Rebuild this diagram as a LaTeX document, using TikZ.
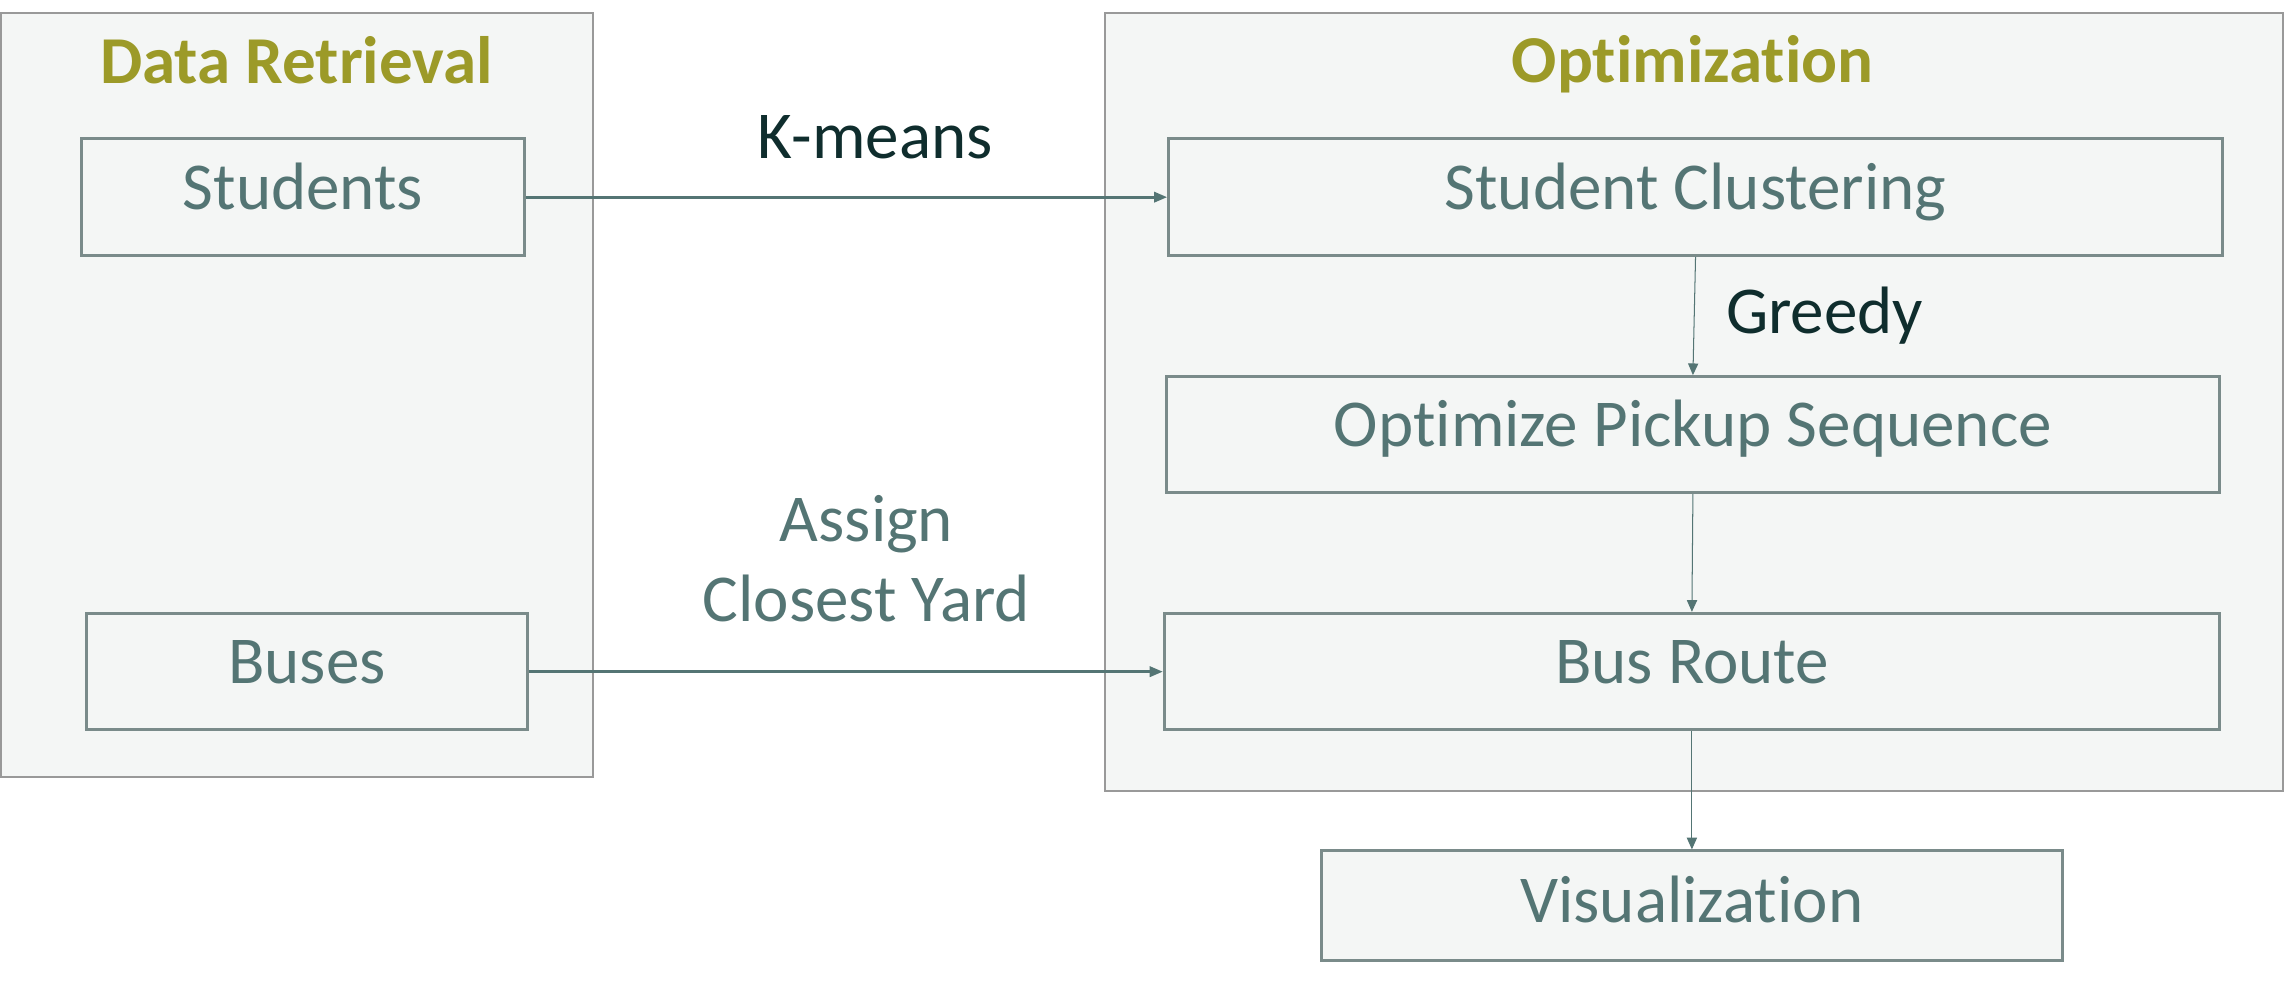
\documentclass[tikz,border=0pt]{standalone}
\usepackage{fontspec}
\setmainfont[Ligatures=NoCommon]{Carlito}
\usetikzlibrary{arrows.meta}
\definecolor{panelfill}{RGB}{244,246,245}
\definecolor{panelline}{RGB}{153,153,153}
\definecolor{boxline}{RGB}{122,139,138}
\definecolor{boxtext}{RGB}{84,117,116}
\definecolor{titlecol}{RGB}{156,154,40}
\definecolor{labeldark}{RGB}{15,45,45}
\definecolor{arrowcol}{RGB}{84,117,116}
\tikzset{
  panel/.style={draw=panelline, line width=1.4pt, fill=panelfill, inner sep=0pt},
  stepbox/.style={draw=boxline, line width=2.1pt, fill=panelfill, inner sep=0pt,
    text=boxtext, font=\fontsize{46}{50}\selectfont, text height=32pt, text depth=15.4pt},
  paneltitle/.style={anchor=base, text=titlecol, font=\fontsize{46}{50}\selectfont\bfseries, inner sep=0pt},
  darklabel/.style={anchor=base, text=labeldark, font=\fontsize{46}{50}\selectfont, inner sep=0pt},
  tealabel/.style={anchor=base, text=boxtext, font=\fontsize{46}{50}\selectfont, inner sep=0pt},
  thickflow/.style={draw=arrowcol, line width=1.9pt, -{Triangle[length=9pt,width=7pt]}},
  thinflow/.style={draw=arrowcol, line width=0.7pt, -{Triangle[length=8pt,width=7pt]}}
}
\begin{document}
\begin{tikzpicture}[x=1pt,y=-1pt]
\useasboundingbox (0,0) rectangle (1568,672.5);
% panels
\node[panel, minimum width=406.3pt, minimum height=524pt] (drpanel) at (204,271) {};
\node[panel, minimum width=808pt, minimum height=534pt] (optpanel) at (1162.5,276) {};
% titles
\node[paneltitle] (drtitle) at (203.5,57) {Data Retrieval};
\node[paneltitle] (opttitle) at (1161.5,56.7) {Optimization};
% boxes
\node[stepbox, minimum width=304pt, minimum height=80pt] (stud) at (208,135.3) {Students};
\node[stepbox, minimum width=303pt, minimum height=80pt] (bus) at (210.7,460.9) {Buses};
\node[stepbox, minimum width=723pt, minimum height=80pt] (clus) at (1163.5,135.3) {Student Clustering};
\node[stepbox, minimum width=723pt, minimum height=79.5pt] (opt) at (1161.7,298.2) {Optimize Pickup Sequence};
\node[stepbox, minimum width=724pt, minimum height=80pt] (route) at (1161,460.9) {Bus Route};
\node[stepbox, minimum width=508pt, minimum height=75pt, text height=35pt, text depth=11.4pt] (vis) at (1161,621.4) {Visualization};
% connectors
\draw[thickflow] (stud.east) -- (clus.west);
\draw[thickflow] (bus.east) -- (route.west);
\draw[thinflow] (clus.south) -- (opt.north);
\draw[thinflow] (opt.south) -- (route.north);
\draw[thinflow] (route.south) -- (vis.north);
% labels
\node[darklabel] (kmeans) at (600.6,108.7) {K-means};
\node[darklabel] (greedy) at (1252,228.7) {Greedy};
\node[tealabel] (assign1) at (594.6,371.7) {Assign};
\node[tealabel] (assign2) at (594.6,426.6) {Closest Yard};
\end{tikzpicture}
\end{document}
